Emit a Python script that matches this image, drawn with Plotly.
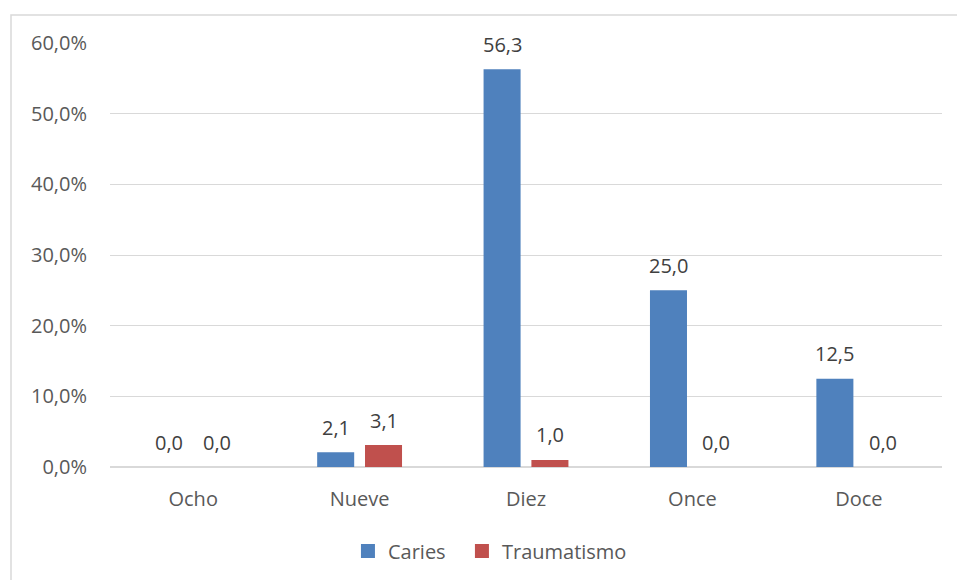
import plotly.graph_objects as go

# Age groups and percentage of cases per condition
categorias = ["Ocho", "Nueve", "Diez", "Once", "Doce"]
caries = [0.0, 2.1, 56.3, 25.0, 12.5]
traumatismo = [0.0, 3.1, 1.0, 0.0, 0.0]
y_ticks = [0, 10, 20, 30, 40, 50, 60]
y_tick_text = [f"{v:.1f}".replace(".", ",") + "%" for v in y_ticks]

FONT = "Open Sans, Lato, sans-serif"
SIZE = 20
TEXT_GRAY = "#595959"
LABEL_GRAY = "#404040"
GRID = "#d9d9d9"
BLUE = "#4F81BD"
RED = "#C0504D"
BAR_OFFSET = 24  # pixel offset of each bar from its category centre

fig = go.Figure()
fig.add_trace(go.Bar(
    name="Caries", x=categorias, y=caries, showlegend=False,
    marker=dict(color=BLUE, line=dict(width=0)),
))
fig.add_trace(go.Bar(
    name="Traumatismo", x=categorias, y=traumatismo, showlegend=False,
    marker=dict(color=RED, line=dict(width=0)),
))

# Legend entries with larger square swatches, one legend box each
for name, color, leg in (("Caries", BLUE, "legend"), ("Traumatismo", RED, "legend2")):
    fig.add_trace(go.Scatter(
        name=name, x=[None], y=[None], mode="markers", legend=leg,
        marker=dict(symbol="square", size=14, color=color),
    ))

# Value labels above each bar
for series, shift in ((caries, -BAR_OFFSET), (traumatismo, BAR_OFFSET)):
    for cat, val in zip(categorias, series):
        fig.add_annotation(
            x=cat, y=val, xref="x", yref="y",
            text=f"{val:.1f}".replace(".", ","),
            showarrow=False, xshift=shift, yshift=25, yanchor="middle",
            font=dict(family=FONT, size=SIZE, color=LABEL_GRAY),
        )

legend_style = dict(
    orientation="h", xanchor="left", y=-0.198, yanchor="middle",
    font=dict(family=FONT, size=SIZE, color=TEXT_GRAY),
    itemwidth=30, bgcolor="rgba(0,0,0,0)",
)

fig.update_layout(
    width=957, height=580,
    margin=dict(l=110, r=15, t=43, b=113, autoexpand=False),
    paper_bgcolor="white", plot_bgcolor="white",
    barmode="group", bargap=0.425, bargroupgap=0.226,
    font=dict(family=FONT, size=SIZE, color=TEXT_GRAY),
    legend=dict(x=0.286, **legend_style),
    legend2=dict(x=0.423, **legend_style),
)

fig.update_yaxes(
    range=[0, 60], tickvals=y_ticks, ticktext=y_tick_text,
    showgrid=True, gridcolor=GRID, gridwidth=1,
    zeroline=True, zerolinecolor=GRID, zerolinewidth=1.5,
    showline=False, ticks="", ticklabelstandoff=22,
    tickfont=dict(family=FONT, size=SIZE, color=TEXT_GRAY),
)
fig.update_xaxes(
    categoryorder="array", categoryarray=categorias,
    showgrid=False, showline=False, ticks="", ticklabelstandoff=18,
    tickfont=dict(family=FONT, size=SIZE, color=TEXT_GRAY),
)

# Chart-area outline (left and top edges visible in the frame)
fig.add_shape(
    type="rect", xref="paper", yref="paper",
    x0=(11 - 110) / 832, x1=1.2, y0=-0.6, y1=(467 - 15) / 424,
    line=dict(color=GRID, width=1.5), fillcolor="rgba(0,0,0,0)", layer="below",
)

fig.write_html("out.html")
